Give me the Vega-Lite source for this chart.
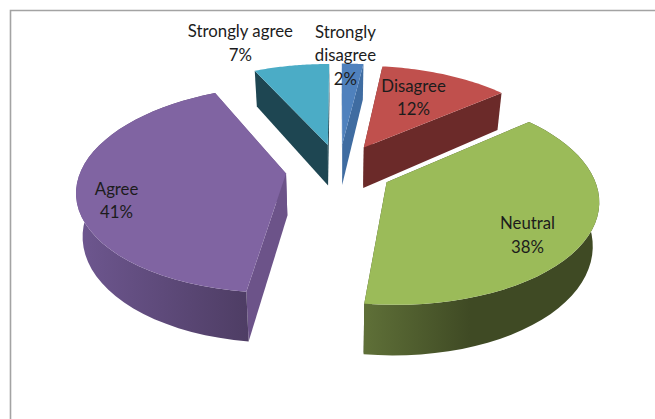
{
  "$schema": "https://vega.github.io/schema/vega-lite/v6.json",
  "width": 650,
  "height": 414,
  "autosize": "none",
  "padding": {"left": 10.5, "top": 10.5, "right": 0, "bottom": 0},
  "background": "white",
  "view": {"stroke": "#a3a3a3", "strokeWidth": 1.6, "fill": "white"},
  "data": {
    "values": [
      {"category": "Strongly disagree", "share": 2},
      {"category": "Disagree", "share": 12},
      {"category": "Neutral", "share": 38},
      {"category": "Agree", "share": 41},
      {"category": "Strongly agree", "share": 7}
    ]
  },
  "transform": [
    {"stack": "share", "groupby": [], "as": ["start", "end"]},
    {"calculate": "datum.start * PI / 50", "as": "a0"},
    {"calculate": "datum.end * PI / 50", "as": "a1"},
    {"calculate": "(datum.a0 + datum.a1) / 2", "as": "mid"},
    {"calculate": "0.26 * sin(datum.mid)", "as": "ex"},
    {"calculate": "0.26 * cos(datum.mid)", "as": "ey"}
  ],
  "encoding": {
    "x": {"field": "u", "type": "quantitative", "axis": null, "scale": {"domain": [-1.6025, 1.5683], "nice": false, "zero": false}},
    "y": {"field": "v", "type": "quantitative", "axis": null, "scale": {"domain": [-2.55, 1.59], "nice": false, "zero": false}}
  },
  "layer": [
    {
      "transform": [
        {"calculate": "[0, 1]", "as": "side"},
        {"flatten": ["side"]},
        {"calculate": "[0, 1, 2, 3]", "as": "corner"},
        {"flatten": ["corner"]},
        {"calculate": "datum.side ? datum.a1 : datum.a0", "as": "theta"},
        {"calculate": "datum.corner == 1 || datum.corner == 2 ? 1 : 0", "as": "reach"},
        {"calculate": "datum.corner >= 2 ? 1 : 0", "as": "level"},
        {"calculate": "datum.category + datum.side", "as": "piece"},
        {"calculate": "datum.ex + datum.reach * sin(datum.theta)", "as": "X"},
        {"calculate": "datum.ey + datum.reach * cos(datum.theta)", "as": "Y"},
        {"calculate": "1 / (1 + 0.15 * datum.Y)", "as": "s"},
        {"calculate": "datum.X * datum.s * (1 - 0.025 * datum.level)", "as": "u"},
        {"calculate": "(datum.Y - 0.42 * datum.level) * datum.s", "as": "v"}
      ],
      "mark": {"type": "line", "filled": true, "strokeWidth": 0},
      "encoding": {
        "order": {"field": "corner", "type": "quantitative"},
        "detail": {"field": "piece"},
        "fill": {
          "field": "category",
          "type": "nominal",
          "legend": null,
          "scale": {
            "domain": ["Strongly disagree", "Disagree", "Neutral", "Agree", "Strongly agree"],
            "range": ["#3f6ca1", "#6b2a29", "#3f4a24", "#6c5389", "#1e4652"]
          }
        }
      }
    },
    {
      "transform": [
        {"calculate": "sequence(0, 41)", "as": "step"},
        {"flatten": ["step"]},
        {"calculate": "[0, 1]", "as": "level"},
        {"flatten": ["level"]},
        {"calculate": "datum.level ? 81 - datum.step : datum.step", "as": "path"},
        {"calculate": "datum.a0 + (datum.a1 - datum.a0) * datum.step / 40", "as": "theta"},
        {"calculate": "datum.ex + sin(datum.theta)", "as": "X"},
        {"calculate": "datum.ey + cos(datum.theta)", "as": "Y"},
        {"calculate": "1 / (1 + 0.15 * datum.Y)", "as": "s"},
        {"calculate": "datum.X * datum.s * (1 - 0.025 * datum.level)", "as": "u"},
        {"calculate": "(datum.Y - 0.42 * datum.level) * datum.s", "as": "v"}
      ],
      "encoding": {
        "order": {"field": "path", "type": "quantitative"}
      },
      "layer": [
        {
          "transform": [{"filter": "datum.category === 'Neutral'"}],
          "mark": {
            "type": "line",
            "strokeWidth": 0,
            "fill": {"x1": 0, "y1": 0, "x2": 1, "y2": 0, "gradient": "linear", "stops": [{"offset": 0, "color": "#5f7038"}, {"offset": 0.45, "color": "#3f4a24"}, {"offset": 1, "color": "#3f4a24"}]}
          }
        },
        {
          "transform": [{"filter": "datum.category === 'Agree'"}],
          "mark": {
            "type": "line",
            "strokeWidth": 0,
            "fill": {"x1": 0, "y1": 0, "x2": 1, "y2": 0, "gradient": "linear", "stops": [{"offset": 0, "color": "#6e5790"}, {"offset": 1, "color": "#4e3d64"}]}
          }
        }
      ]
    },
    {
      "transform": [
        {"calculate": "sequence(-1, 41)", "as": "step"},
        {"flatten": ["step"]},
        {"calculate": "datum.step < 0 ? 0 : 1", "as": "reach"},
        {"calculate": "datum.a0 + (datum.a1 - datum.a0) * max(datum.step, 0) / 40", "as": "theta"},
        {"calculate": "datum.ex + datum.reach * sin(datum.theta)", "as": "X"},
        {"calculate": "datum.ey + datum.reach * cos(datum.theta)", "as": "Y"},
        {"calculate": "1 / (1 + 0.15 * datum.Y)", "as": "s"},
        {"calculate": "datum.X * datum.s", "as": "u"},
        {"calculate": "datum.Y * datum.s", "as": "v"}
      ],
      "mark": {"type": "line", "filled": true, "strokeWidth": 0},
      "encoding": {
        "order": {"field": "step", "type": "quantitative"},
        "fill": {
          "field": "category",
          "type": "nominal",
          "legend": null,
          "scale": {
            "domain": ["Strongly disagree", "Disagree", "Neutral", "Agree", "Strongly agree"],
            "range": ["#4f81bd", "#c0504d", "#9bbb59", "#8064a2", "#4bacc6"]
          }
        }
      }
    },
    {
      "transform": [
        {"calculate": "{'Strongly disagree': 1.38, 'Disagree': 0.912, 'Neutral': 1.06, 'Agree': 1.109, 'Strongly agree': 1.464}[datum.category]", "as": "labelRadius"},
        {"calculate": "{'Strongly disagree': 1.0, 'Disagree': 23.0, 'Neutral': 120.6, 'Agree': 260.1, 'Strongly agree': 340.5}[datum.category] * PI / 180", "as": "labelAngle"},
        {"calculate": "datum.labelRadius * sin(datum.labelAngle) + 0.0073", "as": "u"},
        {"calculate": "datum.labelRadius * cos(datum.labelAngle) - 0.01", "as": "v"},
        {"calculate": "replace(datum.category, 'Strongly disagree', 'Strongly\\ndisagree') + '\\n' + datum.share + '%'", "as": "label"}
      ],
      "mark": {"type": "text", "font": "Lato", "fontSize": 16.8, "lineHeight": 23.5, "lineBreak": "\n", "align": "center", "baseline": "middle", "color": "#1c1c1c"},
      "encoding": {
        "text": {"field": "label", "type": "nominal"}
      }
    }
  ],
  "resolve": {"scale": {"fill": "independent"}},
  "config": {"style": {"cell": {"stroke": "#a3a3a3", "strokeWidth": 1.6}}}
}
